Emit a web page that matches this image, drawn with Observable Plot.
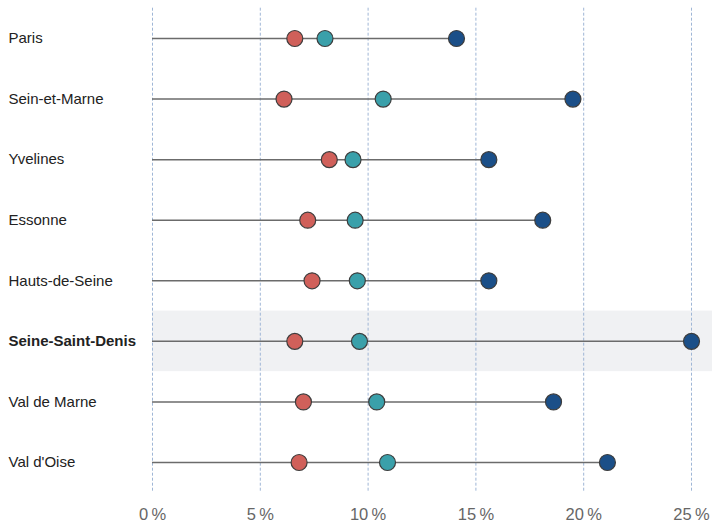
<!DOCTYPE html>
<html>
<head>
<meta charset="utf-8">
<script src="https://cdn.jsdelivr.net/npm/d3@7"></script>
<script src="https://cdn.jsdelivr.net/npm/@observablehq/plot@0.6"></script>
<style>
  body { margin: 0; background: #fff; }
  svg { overflow: visible; }
</style>
</head>
<body>
<div id="chart"></div>
<script>
const regions = ["Paris", "Sein-et-Marne", "Yvelines", "Essonne", "Hauts-de-Seine", "Seine-Saint-Denis", "Val de Marne", "Val d'Oise"];
const highlighted = "Seine-Saint-Denis";
const serieRouge = [6.6, 6.1, 8.2, 7.2, 7.4, 6.6, 7.0, 6.8];
const serieTurquoise = [8.0, 10.7, 9.3, 9.4, 9.5, 9.6, 10.4, 10.9];
const serieBleue = [14.1, 19.5, 15.6, 18.1, 15.6, 25.0, 18.6, 21.1];
const xTicks = [0, 5, 10, 15, 20, 25];
const seriesNames = ["Série 1", "Série 2", "Série 3"];
const seriesColors = ["#d0605a", "#3aa0aa", "#1b4f88"];

const rows = regions.map((r, i) => ({
  region: r,
  max: Math.max(serieRouge[i], serieTurquoise[i], serieBleue[i])
}));
const points = [];
[serieRouge, serieTurquoise, serieBleue].forEach((arr, s) => {
  arr.forEach((v, i) => points.push({region: regions[i], value: v, serie: seriesNames[s]}));
});

const font = "'Liberation Sans Narrow', 'Arial Narrow', 'Liberation Sans', sans-serif";

const chart = Plot.plot({
  width: 712,
  height: 524,
  marginLeft: 152,
  marginRight: 21,
  marginTop: 7.7,
  marginBottom: 31.7,
  style: {fontFamily: font, background: "#fff"},
  x: {domain: [0, 25], ticks: xTicks},
  y: {domain: regions, padding: 0, round: false, axis: null},
  color: {domain: seriesNames, range: seriesColors},
  marks: [
    Plot.barX([highlighted], {y: d => d, x1: 0, x2: 25 + 21 * 25 / 539, fill: "#f0f1f3"}),
    Plot.ruleX(xTicks, {stroke: "#9fb6d6", strokeDasharray: "3,2", strokeWidth: 1}),
    Plot.ruleY(rows, {y: "region", x1: 0, x2: "max", stroke: "#6b6b6b", strokeWidth: 1.5}),
    Plot.dot(points, {x: "value", y: "region", fill: "serie", r: 8, stroke: "#3d3d3d", strokeWidth: 1.2}),
    Plot.text(regions.filter(r => r !== highlighted), {y: d => d, x: 0, text: d => d, textAnchor: "start", dx: -144, fontSize: 15, fill: "#222"}),
    Plot.text([highlighted], {y: d => d, x: 0, text: d => d, textAnchor: "start", dx: -144, fontSize: 15, fontWeight: "bold", fill: "#222"}),
    Plot.axisX(xTicks, {tickSize: 0, tickPadding: 15, fontSize: 16.5, fill: "#666", tickFormat: d => d + "\u2009%", anchor: "bottom"})
  ]
});
document.getElementById("chart").appendChild(chart);
</script>
</body>
</html>
